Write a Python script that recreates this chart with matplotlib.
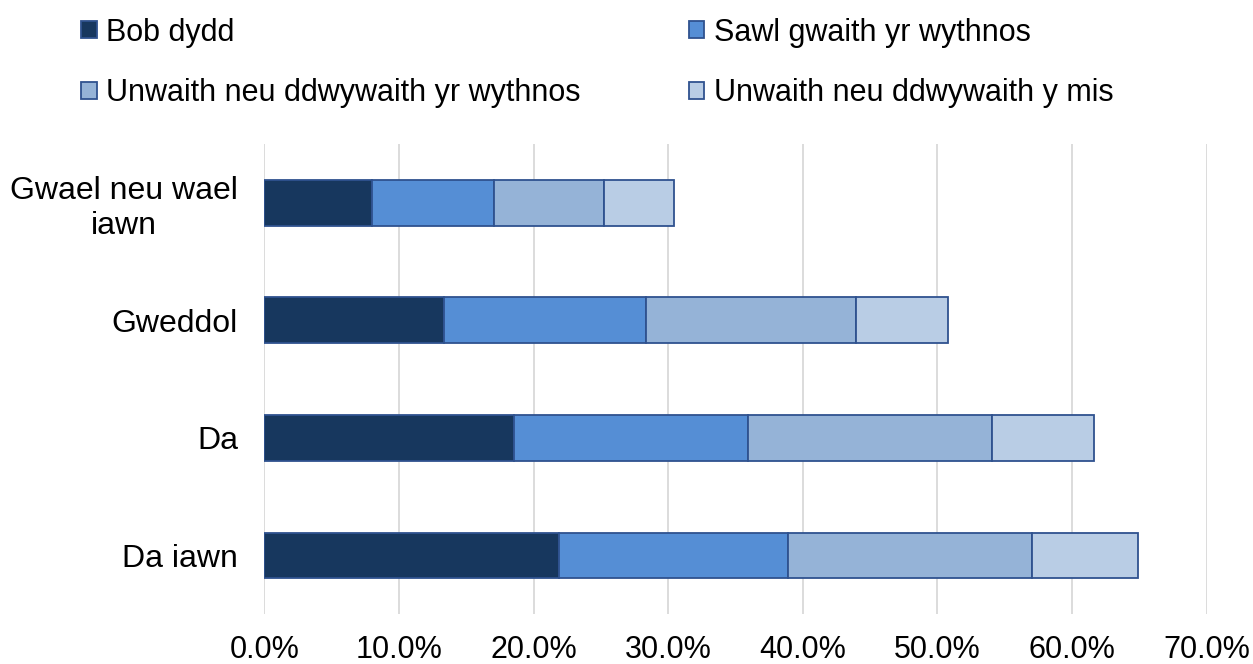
import matplotlib.pyplot as plt
import numpy as np
from matplotlib.ticker import PercentFormatter

plt.rcParams['font.family'] = ['Liberation Sans', 'DejaVu Sans']

kategorie = ['Gwael neu wael\niawn', 'Gweddol', 'Da', 'Da iawn']
serie = ['Bob dydd', 'Sawl gwaith yr wythnos',
         'Unwaith neu ddwywaith yr wythnos', 'Unwaith neu ddwywaith y mis']
bob_dydd = [7.99, 13.31, 18.58, 21.86]
sawl_gwaith = [9.04, 15.01, 17.32, 17.05]
unwaith_wythnos = [8.19, 15.65, 18.17, 18.13]
unwaith_mis = [5.22, 6.84, 7.56, 7.83]
kolory = ['#17375E', '#558ED5', '#95B3D7', '#B9CDE5']

wartosci = [bob_dydd, sawl_gwaith, unwaith_wythnos, unwaith_mis]

fig = plt.figure(figsize=(12.53, 6.64), dpi=100)
ax = fig.add_axes([0.211, 0.075, 0.752, 0.708])

y = np.arange(len(kategorie))
lewo = np.zeros(len(kategorie))
uchwyty = []
for nazwa, w, kolor in zip(serie, wartosci, kolory):
    w = np.array(w) / 100
    b = ax.barh(y, w, left=lewo, height=0.39, color=kolor,
                edgecolor='#2F528F', linewidth=1.3, label=nazwa, zorder=3)
    uchwyty.append(b)
    lewo += w

ax.set_xlim(0, 0.70)
ax.set_ylim(3.5, -0.5)
ax.set_yticks(y)
ax.set_yticklabels(kategorie, fontsize=23)
ax.set_xticks(np.arange(0, 0.71, 0.1))
ax.xaxis.set_major_formatter(PercentFormatter(1.0, decimals=1))
ax.tick_params(axis='x', labelsize=22, length=0, pad=15, colors='#000000')
ax.tick_params(axis='y', length=0, pad=19)
for t in ax.get_yticklabels():
    t.set_horizontalalignment('right')
    t.set_multialignment('center')
ax.grid(axis='x', color='#D9D9D9', linewidth=1.3, zorder=0)
for s in ax.spines.values():
    s.set_visible(False)

kolejnosc = [0, 2, 1, 3]
fig.legend([uchwyty[i] for i in kolejnosc], [serie[i] for i in kolejnosc],
           ncol=2, loc='upper left', bbox_to_anchor=(0.043, 1.015),
           frameon=False, fontsize=22, handlelength=0.5, handleheight=0.5,
           handletextpad=0.3, columnspacing=3.56, labelspacing=1.0)

fig.savefig('out.png', dpi=100)
